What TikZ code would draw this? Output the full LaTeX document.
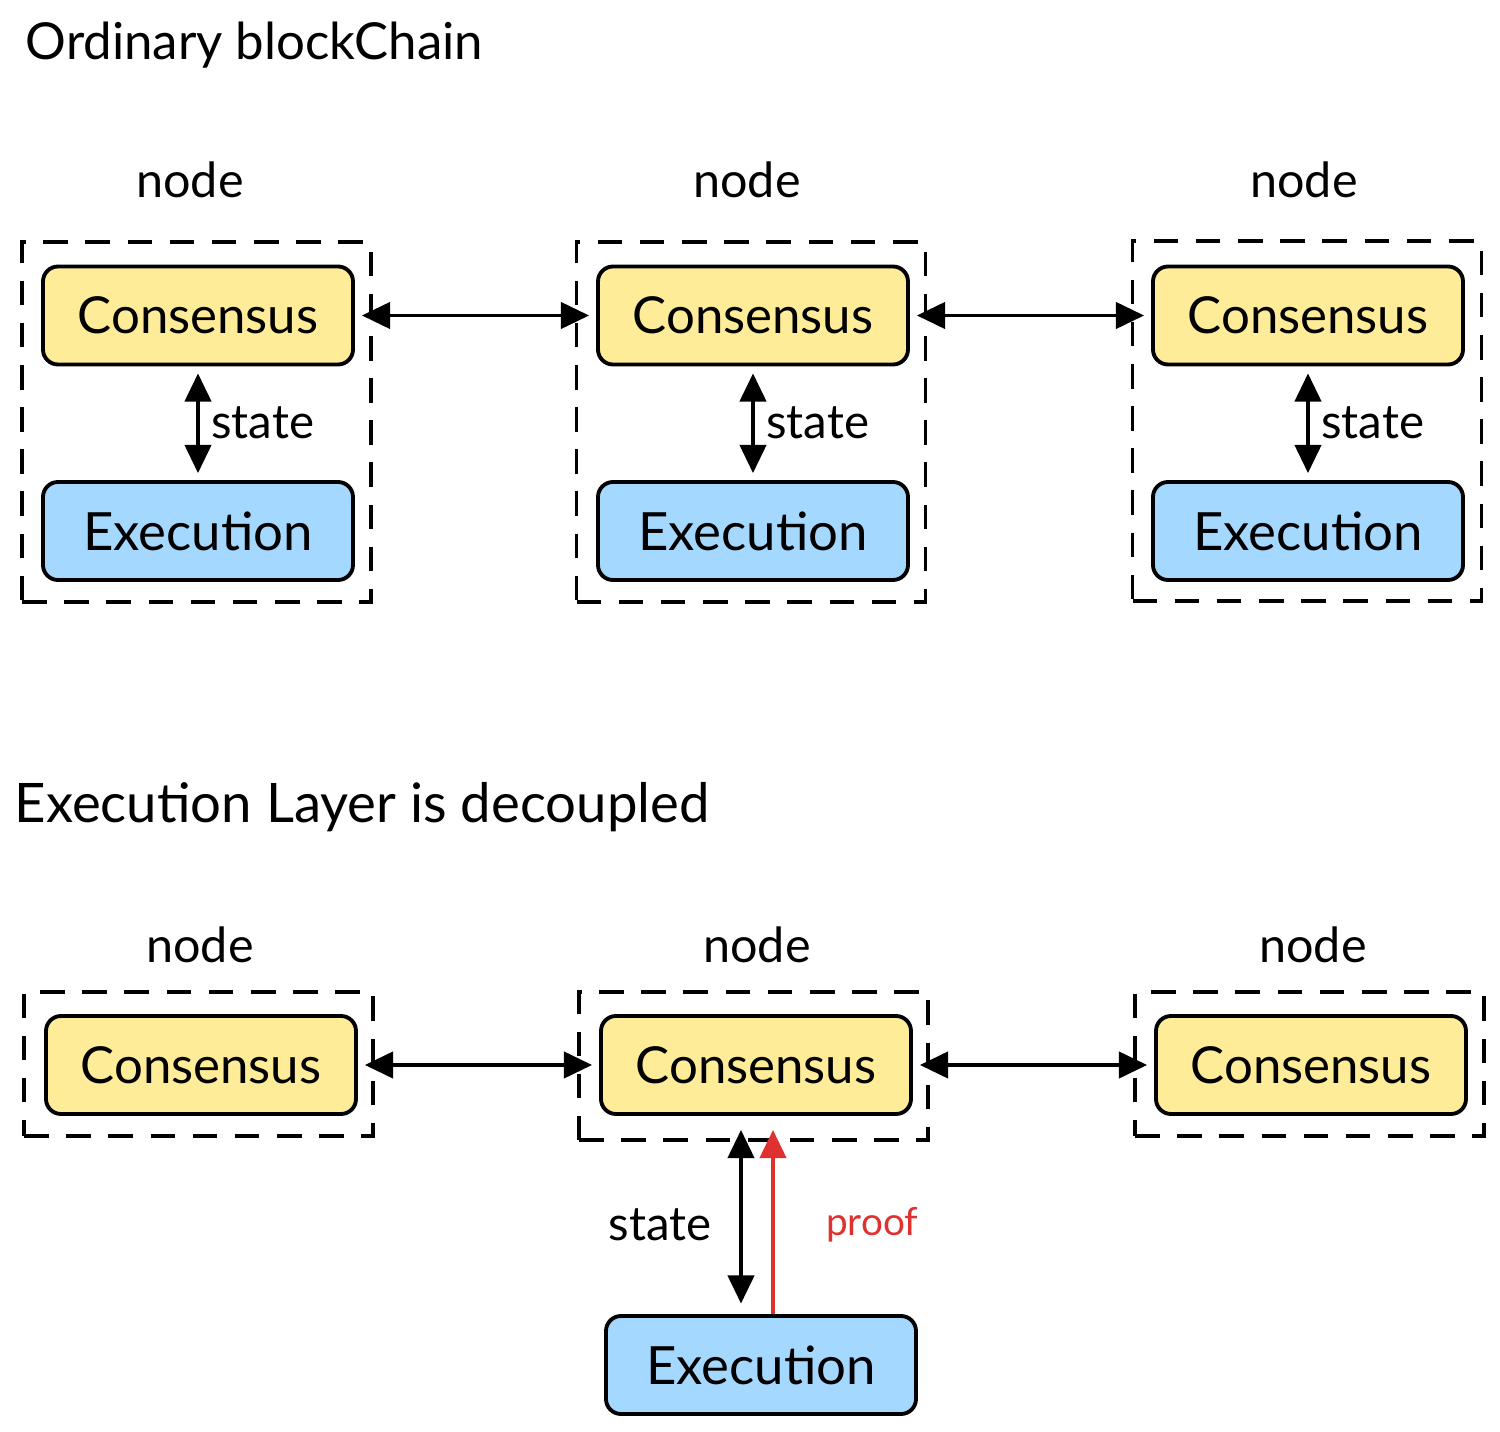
\documentclass[tikz,border=0pt]{standalone}
\usepackage{fontspec}
\setmainfont{Lato}
\usetikzlibrary{arrows.meta}
\definecolor{consfill}{HTML}{FFEC99}
\definecolor{execfill}{HTML}{A5D8FF}
\definecolor{proofred}{HTML}{E03131}
\begin{document}
\begin{tikzpicture}[
    cons/.style={draw, line width=1.1pt, rounded corners=0.15cm, fill=consfill,
      minimum width=3.1cm, minimum height=0.98cm, font=\fontsize{14.5}{17}\selectfont},
    exec/.style={cons, fill=execfill, font=\fontsize{15}{18}\selectfont},
    group/.style={draw, dashed, line width=1pt, dash pattern=on 7pt off 5pt,
      minimum width=3.49cm, minimum height=3.6cm},
    title/.style={anchor=west, inner sep=0pt},
    label/.style={font=\fontsize{13.8}{16}\selectfont},
    small/.style={font=\fontsize{13.5}{16}\selectfont},
    link/.style={line width=0.9pt, {Triangle[length=8pt,width=7.5pt]}-{Triangle[length=8pt,width=7.5pt]},
      shorten <=2pt, shorten >=2pt}]
    \useasboundingbox (0,0) rectangle (15,-14.32);
    % Titles
    \node[title, font=\fontsize{14.5}{17}\selectfont] (t1) at (0.25,-0.45) {Ordinary blockChain};
    \node[title, font=\fontsize{15.5}{18}\selectfont] (t2) at (0.14,-8.07) {Execution Layer is decoupled};
    % Nodes (top)
    \node[group] (g1) at (1.965,-4.22) {};
    \node[group] (g2) at (7.51,-4.22)  {};
    \node[group] (g3) at (13.07,-4.21) {};
    \node[label] (n1) at (1.90,-1.80) {node};
    \node[label] (n2) at (7.47,-1.80) {node};
    \node[label] (n3) at (13.04,-1.80) {node};
    \node[cons] (c1) at (1.98,-3.155)  {Consensus};
    \node[cons] (c2) at (7.53,-3.155)  {Consensus};
    \node[cons] (c3) at (13.08,-3.155) {Consensus};
    \node[exec] (e1) at (1.98,-5.31)  {Execution};
    \node[exec] (e2) at (7.53,-5.31)  {Execution};
    \node[exec] (e3) at (13.08,-5.31) {Execution};
    % Nodes (bottom)
    \node[group, minimum height=1.44cm] (g4) at (1.985,-10.64) {};
    \node[group, minimum height=1.48cm] (g5) at (7.535,-10.66) {};
    \node[group, minimum height=1.44cm] (g6) at (13.095,-10.64) {};
    \node[label] (n4) at (2.00,-9.45)  {node};
    \node[label] (n5) at (7.57,-9.45)  {node};
    \node[label] (n6) at (13.13,-9.45) {node};
    \node[cons] (c4) at (2.01,-10.65)  {Consensus};
    \node[cons] (c5) at (7.56,-10.65)  {Consensus};
    \node[cons] (c6) at (13.11,-10.65) {Consensus};
    \node[exec] (e5) at (7.61,-13.65)  {Execution};
    % Edges (top)
    \draw[link] (c1) -- (c2);
    \draw[link] (c2) -- (c3);
    \draw[link] (c1) -- node[right, small] {state} (e1);
    \draw[link] (c2) -- node[right, small] {state} (e2);
    \draw[link] (c3) -- node[right, small] {state} (e3);
    % Edges (bottom)
    \draw[link] (c4) -- (c5);
    \draw[link] (c5) -- (c6);
    \draw[link, shorten <=4pt, shorten >=3pt] ([xshift=-0.15cm]c5.south) --
      node[left=0.16cm, yshift=-0.1cm, small] {state} ([xshift=-0.2cm]e5.north);
    \draw[proofred, line width=0.9pt, -{Triangle[length=8pt,width=7.5pt]}, shorten >=4pt]
      ([xshift=0.12cm]e5.north) --
      node[right=0.4cm, yshift=-0.1cm, font=\fontsize{11}{13}\selectfont] {proof} ([xshift=0.17cm]c5.south);
\end{tikzpicture}
\end{document}
